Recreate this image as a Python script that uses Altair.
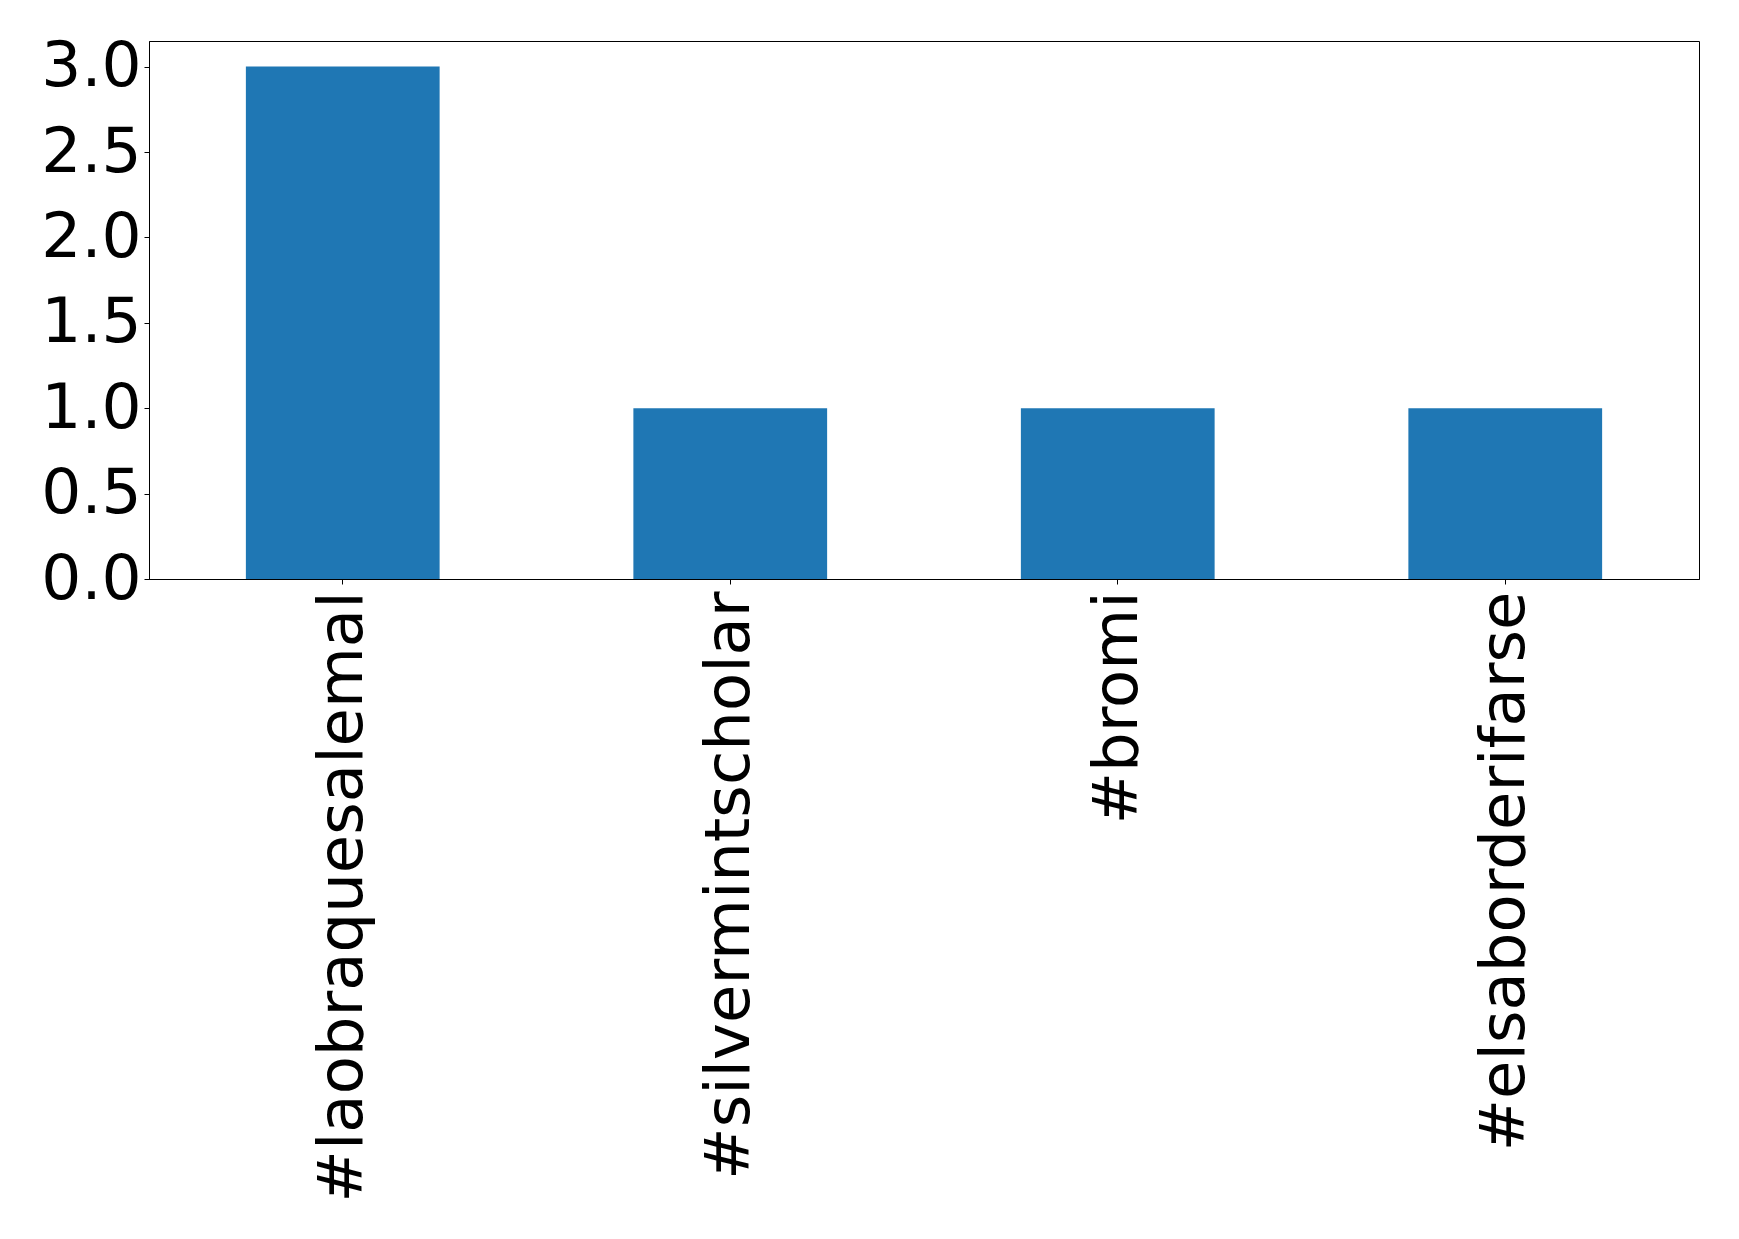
import altair as alt
import pandas as pd

hashtags = ["#laobraquesalemal", "#silvermintscholar", "#bromi", "#elsaborderifarse"]
counts = [3, 1, 1, 1]
y_ticks = [0.0, 0.5, 1.0, 1.5, 2.0, 2.5, 3.0]

df = pd.DataFrame({"hashtag": hashtags, "count": counts})

chart = alt.Chart(df).mark_bar(color="#1f77b4").encode(
    x=alt.X("hashtag:N", sort=hashtags, title=None,
            scale=alt.Scale(paddingInner=0.5, paddingOuter=0.25),
            axis=alt.Axis(labelAngle=-90, labelFontSize=62.5, labelFont="DejaVu Sans",
                          labelColor="black", tickColor="black", domainColor="black",
                          tickSize=5, labelPadding=7, labelLimit=0, grid=False)),
    y=alt.Y("count:Q", title=None,
            scale=alt.Scale(domain=[0, 3.15], nice=False, zero=True),
            axis=alt.Axis(values=y_ticks, format=".1f", labelFontSize=63,
                          labelFont="DejaVu Sans", labelColor="black",
                          tickColor="black", domainColor="black", tickSize=5,
                          labelPadding=3, grid=False)),
).properties(
    width=1550,
    height=538,
    autosize=alt.AutoSizeParams(type="none"),
    padding={"left": 141, "top": 33, "right": 20, "bottom": 630},
).configure(
    background="white"
).configure_view(
    stroke="black", strokeWidth=1
)

chart.save("out.html", embed_options={"renderer": "svg", "actions": False})
